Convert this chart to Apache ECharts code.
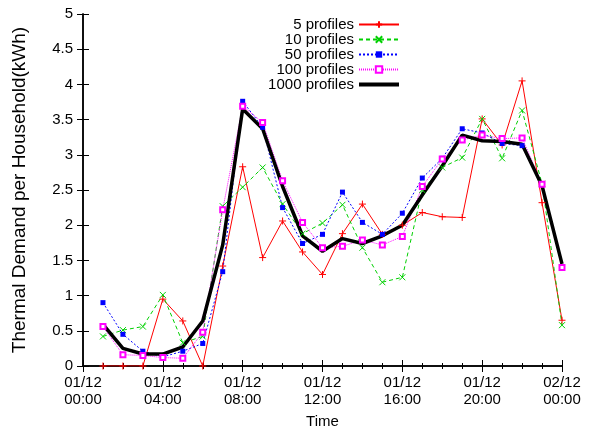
<!DOCTYPE html>
<html>
<head>
<meta charset="utf-8">
<script src="https://cdn.jsdelivr.net/npm/echarts@6/dist/echarts.min.js"></script>
<style>
  html, body { margin: 0; padding: 0; background: #fff; }
  #chart { width: 589px; height: 427px; }
</style>
</head>
<body>
<div id="chart"></div>
<script>
// hours after 01/12 00:00
const hours = [1, 2, 3, 4, 5, 6, 7, 8, 9, 10, 11, 12, 13, 14, 15, 16, 17, 18, 19, 20, 21, 22, 23, 24];

const profiles5 = [0, 0, 0, 0.95, 0.64, 0, 1.42, 2.83, 1.54, 2.06, 1.62, 1.30, 1.88, 2.30, 1.87, 2.00, 2.18, 2.12, 2.11, 3.51, 3.14, 4.05, 2.32, 0.65];
const profiles10 = [0.42, 0.51, 0.56, 1.01, 0.33, 0.42, 2.27, 2.54, 2.82, 2.30, 1.88, 2.03, 2.29, 1.68, 1.19, 1.26, 2.50, 2.82, 2.96, 3.51, 2.95, 3.63, 2.59, 0.58];
const profiles50 = [0.90, 0.45, 0.21, 0.13, 0.21, 0.32, 1.34, 3.76, 3.39, 2.25, 1.74, 1.87, 2.47, 2.04, 1.87, 2.17, 2.67, 2.95, 3.37, 3.31, 3.16, 3.13, 2.59, 1.40];
const profiles100 = [0.56, 0.16, 0.15, 0.12, 0.11, 0.48, 2.22, 3.69, 3.46, 2.63, 2.04, 1.68, 1.70, 1.79, 1.72, 1.84, 2.55, 2.94, 3.21, 3.28, 3.23, 3.24, 2.58, 1.40];
const profiles1000 = [0.59, 0.25, 0.17, 0.17, 0.27, 0.64, 1.72, 3.65, 3.37, 2.55, 1.85, 1.63, 1.81, 1.74, 1.85, 2.00, 2.43, 2.84, 3.28, 3.20, 3.19, 3.15, 2.56, 1.45];

const timeLabels = ['01/12\n00:00', '01/12\n04:00', '01/12\n08:00', '01/12\n12:00', '01/12\n16:00', '01/12\n20:00', '02/12\n00:00'];

const font = 'Liberation Sans, Arial, sans-serif';

function pairs(vals) {
  return hours.map((h, i) => [h, vals[i]]);
}

const myChart = echarts.init(document.getElementById('chart'), null, { renderer: 'canvas' });

const axisLine = { show: true, lineStyle: { color: '#000', width: 1.5 } };

const option = {
  animation: false,
  grid: { left: 83, right: 27, top: 14, bottom: 61, outerBoundsMode: 'none', containLabel: false },
  legend: {
    orient: 'vertical',
    right: 183,
    top: 12,
    align: 'right',
    itemWidth: 40,
    itemHeight: 8,
    itemGap: 0,
    textStyle: { fontFamily: font, fontSize: 15, lineHeight: 14, color: '#000', width: 100, align: 'right' },
    data: [
      '5 profiles', '10 profiles', '50 profiles', '100 profiles',
      { name: '1000 profiles', lineStyle: { width: 4 } }
    ]
  },
  xAxis: [
    {
      type: 'value', min: 0, max: 24, interval: 4,
      name: 'Time', nameLocation: 'middle', nameGap: 48,
      nameTextStyle: { fontFamily: font, fontSize: 15, color: '#000' },
      axisLine: axisLine,
      axisTick: { inside: true, length: 6, lineStyle: { color: '#000' } },
      minorTick: { show: true, splitNumber: 4, length: 3, lineStyle: { color: '#000' } },
      splitLine: { show: false },
      axisLabel: {
        fontFamily: font, fontSize: 15, color: '#000', margin: 8, lineHeight: 17,
        formatter: v => timeLabels[Math.round(v / 4)]
      }
    },
    {
      type: 'value', min: 0, max: 24, interval: 4, position: 'top',
      axisLine: axisLine,
      axisTick: { inside: true, length: 6, lineStyle: { color: '#000' } },
      minorTick: { show: true, splitNumber: 4, length: 3, lineStyle: { color: '#000' } },
      splitLine: { show: false },
      axisLabel: { show: false }
    }
  ],
  yAxis: [
    {
      type: 'value', min: 0, max: 5, interval: 0.5,
      name: 'Thermal Demand per Household(kWh)', nameLocation: 'middle', nameGap: 54,
      nameTextStyle: { fontFamily: font, fontSize: 19, color: '#000' },
      axisLine: axisLine,
      axisTick: { show: true, inside: true, length: 6, lineStyle: { color: '#000' } },
      splitLine: { show: false },
      axisLabel: { fontFamily: font, fontSize: 15, color: '#000', margin: 10 }
    },
    {
      type: 'value', min: 0, max: 5, interval: 0.5, position: 'right',
      axisLine: axisLine,
      axisTick: { show: true, inside: true, length: 6, lineStyle: { color: '#000' } },
      splitLine: { show: false },
      axisLabel: { show: false }
    }
  ],
  series: [
    {
      name: '5 profiles', type: 'line', data: pairs(profiles5),
      symbol: 'path://M0,5L10,5M5,0L5,10', symbolSize: 7,
      itemStyle: { color: '#ff0000', borderColor: '#ff0000', borderWidth: 1 },
      lineStyle: { color: '#ff0000', width: 1 }
    },
    {
      name: '10 profiles', type: 'line', data: pairs(profiles10),
      symbol: 'path://M0,0L10,10M0,10L10,0', symbolSize: 6,
      itemStyle: { color: '#00d000', borderColor: '#00d000', borderWidth: 1 },
      lineStyle: { color: '#00d000', width: 1, type: [4, 3] }
    },
    {
      name: '50 profiles', type: 'line', data: pairs(profiles50),
      symbol: 'rect', symbolSize: 5,
      itemStyle: { color: '#0000ff', borderWidth: 0 },
      lineStyle: { color: '#0000ff', width: 1, type: [2, 2] }
    },
    {
      name: '100 profiles', type: 'line', data: pairs(profiles100),
      symbol: 'emptyRect', symbolSize: 5,
      itemStyle: { color: '#ff00ff', borderColor: '#ff00ff', borderWidth: 1 },
      lineStyle: { color: '#ff00ff', width: 1, type: [1, 1] }
    },
    {
      name: '1000 profiles', type: 'line', data: pairs(profiles1000),
      symbol: 'rect', showSymbol: false,
      itemStyle: { color: 'rgba(0,0,0,0)', borderWidth: 0 },
      lineStyle: { color: '#000', width: 3.5 }
    }
  ]
};

myChart.setOption(option);
</script>
</body>
</html>
